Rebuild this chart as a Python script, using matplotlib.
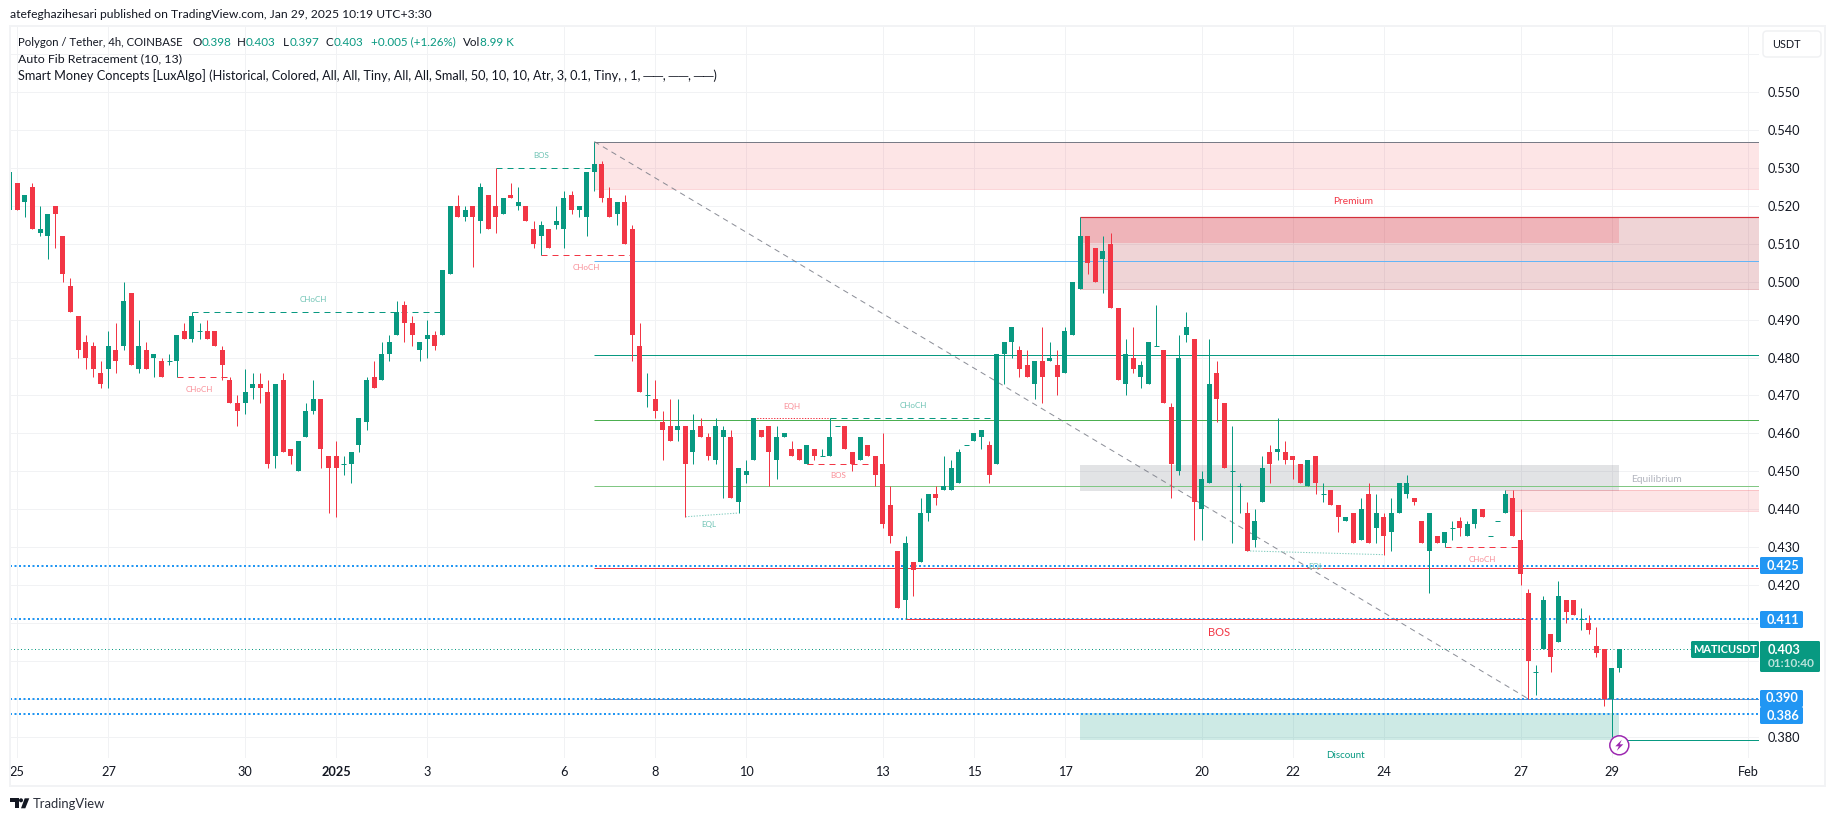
import matplotlib
matplotlib.use('Agg')
import matplotlib.pyplot as plt
from matplotlib.patches import Circle, FancyBboxPatch, Polygon, Rectangle

plt.rcParams['font.family'] = ['Lato', 'DejaVu Sans']

UP = '#089981'
DOWN = '#f23645'
BLUE = '#2196f3'
GREY = '#787b86'
GRID = '#f1f2f4'
TEXT = '#131722'

# 4h candles, first one is the bar before Dec 25 00:00
first_bar = -1
opens = [.519, .526, .521, .525, .513, .512, .520, .512, .499, .491,
         .484, .483, .476, .477, .482, .483, .497, .477, .482, .480,
         .479, .479, .479, .487, .485, .487, .487, .487, .482, .474,
         .468, .468, .472, .473, .471, .454, .474, .456, .450, .459,
         .466, .469, .454, .454, .452, .452, .457, .463, .475, .474,
         .481, .486, .494, .489, .482, .485, .486, .486, .502, .520,
         .517, .520, .516, .523, .520, .518, .523, .520, .520, .514,
         .512, .514, .515, .514, .523, .519, .517, .529, .531, .522,
         .518, .521, .514, .483, .470, .469, .463, .462, .461, .462,
         .455, .462, .459, .453, .459, .459, .442, .449, .453, .461,
         .462, .453, .459, .456, .456, .452, .456, .454, .454, .462,
         .462, .455, .453, .457, .454, .452, .441, .429, .416, .426,
         .426, .439, .444, .445, .445, .447, .457, .458, .459, .457,
         .452, .481, .484, .482, .478, .473, .479, .479, .478, .476,
         .486, .498, .512, .509, .506, .510, .493, .473, .480, .475,
         .473, .483, .482, .467, .450, .486, .485, .440, .447, .476,
         .468, .450, .446, .439, .432, .442, .455, .455, .455, .454,
         .452, .446, .454, .444, .445, .441, .437, .439, .432, .444,
         .435, .438, .434, .439, .444, .443, .437, .429, .433, .431,
         .435, .437, .433, .436, .440, .433, .437, .439, .443, .432,
         .418, .397, .403, .407, .405, .416, .416, .411, .410, .404,
         .403, .390, .398]
highs = [.529, .526, .523, .526, .520, .518, .520, .512, .501, .491,
         .486, .484, .479, .487, .489, .500, .497, .490, .484, .481,
         .480, .481, .486, .489, .492, .489, .490, .487, .483, .475,
         .470, .477, .476, .476, .474, .473, .476, .456, .458, .468,
         .474, .469, .454, .458, .454, .455, .464, .475, .479, .484,
         .486, .495, .495, .491, .484, .490, .487, .503, .520, .523,
         .520, .520, .526, .523, .530, .522, .526, .525, .520, .516,
         .516, .514, .520, .524, .524, .520, .529, .537, .532, .525,
         .521, .523, .515, .489, .476, .474, .466, .469, .469, .462,
         .465, .464, .460, .464, .462, .461, .451, .453, .464, .461,
         .462, .462, .460, .458, .456, .457, .456, .456, .464, .462,
         .462, .455, .459, .457, .454, .460, .446, .429, .433, .426,
         .443, .444, .446, .454, .453, .456, .457, .460, .461, .458,
         .481, .484, .488, .483, .482, .479, .488, .484, .482, .488,
         .500, .517, .512, .509, .512, .513, .493, .485, .488, .479,
         .484, .494, .482, .468, .486, .492, .485, .450, .485, .479,
         .468, .462, .447, .442, .440, .454, .457, .464, .458, .454,
         .452, .453, .454, .447, .445, .441, .438, .439, .443, .447,
         .444, .439, .443, .447, .449, .443, .437, .439, .433, .434,
         .437, .438, .437, .440, .440, .433, .437, .445, .445, .440,
         .419, .399, .417, .407, .421, .416, .416, .414, .412, .409,
         .403, .398, .403]
lows = [.514, .519, .517, .514, .512, .506, .509, .500, .492, .480,
        .477, .475, .472, .472, .476, .482, .478, .476, .477, .475,
        .475, .478, .475, .485, .484, .485, .485, .483, .474, .468,
        .462, .465, .469, .468, .451, .451, .455, .452, .450, .459,
        .465, .451, .439, .438, .449, .447, .455, .461, .472, .474,
        .479, .486, .484, .483, .479, .480, .482, .486, .502, .517,
        .516, .504, .513, .514, .513, .518, .522, .519, .516, .509,
        .507, .509, .514, .509, .518, .517, .512, .524, .521, .517,
        .515, .510, .479, .471, .467, .464, .453, .458, .458, .438,
        .452, .459, .453, .452, .443, .443, .439, .447, .453, .459,
        .446, .448, .459, .454, .453, .452, .453, .454, .454, .462,
        .456, .450, .453, .454, .446, .435, .431, .414, .411, .417,
        .426, .437, .441, .445, .445, .447, .457, .458, .456, .447,
        .452, .473, .480, .475, .475, .469, .468, .479, .470, .476,
        .486, .498, .502, .500, .497, .493, .474, .470, .476, .472,
        .473, .483, .468, .443, .449, .484, .432, .432, .447, .463,
        .451, .431, .439, .429, .430, .442, .447, .453, .452, .448,
        .447, .446, .444, .442, .441, .434, .437, .431, .432, .431,
        .431, .428, .429, .439, .443, .441, .431, .418, .431, .430,
        .432, .433, .433, .435, .438, .433, .437, .439, .433, .420,
        .390, .391, .403, .397, .405, .410, .412, .408, .407, .401,
        .388, .380, .397]
closes = [.529, .519, .523, .514, .514, .518, .518, .502, .492, .482,
          .480, .477, .473, .483, .479, .495, .478, .483, .477, .481,
          .475, .479, .486, .485, .491, .487, .485, .483, .478, .468,
          .466, .471, .473, .472, .452, .473, .455, .454, .458, .466,
          .469, .456, .451, .451, .452, .455, .464, .474, .472, .481,
          .484, .492, .489, .486, .484, .486, .483, .503, .520, .517,
          .519, .517, .525, .514, .517, .522, .522, .521, .516, .510,
          .515, .509, .516, .522, .519, .520, .529, .531, .522, .517,
          .521, .510, .486, .471, .470, .466, .461, .458, .462, .452,
          .461, .459, .454, .462, .461, .443, .451, .450, .464, .459,
          .455, .459, .460, .454, .453, .457, .454, .454, .459, .462,
          .456, .452, .459, .454, .449, .436, .433, .414, .431, .424,
          .439, .444, .443, .446, .451, .455, .457, .460, .461, .449,
          .481, .484, .488, .477, .475, .479, .475, .480, .475, .487,
          .500, .512, .505, .500, .508, .493, .474, .481, .477, .478,
          .484, .483, .468, .452, .480, .488, .442, .448, .473, .469,
          .451, .450, .446, .429, .437, .451, .452, .456, .453, .453,
          .447, .453, .447, .444, .441, .438, .438, .431, .440, .431,
          .439, .433, .439, .447, .447, .442, .431, .439, .431, .434,
          .435, .435, .436, .440, .438, .433, .437, .444, .433, .423,
          .400, .397, .416, .401, .417, .413, .412, .411, .408, .402,
          .390, .398, .403]

tick_bars = [0, 12, 30, 42, 54, 72, 84, 96, 114, 126, 138, 156, 168, 180, 198, 210, 228]
tick_labels = ['25', '27', '30', '2025', '3', '6', '8', '10', '13', '15', '17', '20', '22', '24', '27', '29', 'Feb']
price_ticks = [.56, .55, .54, .53, .52, .51, .50, .49, .48, .47, .46, .45, .44, .43, .42, .41, .40, .39, .38]
price_hidden = [.56, .41, .40, .39]

# auto fib levels: price, colour
fib_prices = [.537, .5056, .4808, .4635, .4462, .4245, .390]
fib_colors = [GREY, '#64b5f6', UP, '#4caf50', '#81c784', DOWN, '#7f8ab0']
blue_levels = [.425, .411, .390, .386]
last_price = .403

# structure lines: start bar, end bar, start price, end price, colour, style
struct_x0 = [21, 23, 63, 69, 97, 107, 104, 88, 162, 188, 117, 210]
struct_x1 = [28, 56, 76, 81, 107, 129, 113, 95, 180, 198, 199, 229.4]
struct_y0 = [.475, .492, .530, .507, .464, .464, .452, .438, .429, .430, .411, .379]
struct_y1 = [.475, .492, .530, .507, .464, .464, .452, .439, .428, .430, .411, .379]
struct_col = [DOWN, UP, UP, DOWN, DOWN, UP, DOWN, '#7fcbbd', '#7fcbbd', DOWN, DOWN, UP]
dash = (0, (6, 5))
dots = (0, (1.3, 1.5))
struct_ls = [dash, dash, dash, dash, dots, dash, dash, dots, dots, dash, '-', '-']

# small labels: text, pixel x, pixel y, colour
small_labels = [('CHoCH', 313, 300, '#6cc2b3'), ('CHoCH', 199, 389, '#f98d96'), ('BOS', 541, 155, '#6cc2b3'),
                ('CHoCH', 586, 267, '#f98d96'), ('EQH', 792, 406, '#f98d96'), ('CHoCH', 913, 406, '#6cc2b3'),
                ('EQL', 709, 525, '#6cc2b3'), ('BOS', 838, 476, '#f98d96'), ('CHoCH', 1482, 559, '#f98d96'),
                ('EQL', 1316, 567, '#6cc2b3')]
PX = 1 / 100 * 72  # one pixel in points

fig = plt.figure(figsize=(18.35, 8.21), dpi=100, facecolor='white')
ax = fig.add_axes([10 / 1835, (821 - 758) / 821, (1759 - 10) / 1835, (758 - 26) / 821])
bar_px = 7.592
x_end = (1759 - 17.3) / bar_px
ax.set_xlim((10 - 17.3) / bar_px, x_end)
ax.set_ylim(.55 - (758 - 92.3) / 3790, .55 - (26 - 92.3) / 3790)

for s in ax.spines.values():
    s.set_visible(False)
ax.set_axisbelow(True)
ax.grid(True, color=GRID, lw=PX)
ax.yaxis.tick_right()
ax.set_yticks(price_ticks)
ax.set_yticklabels(['' if p in price_hidden else f'{p:.3f}' for p in price_ticks], fontsize=9.2, color=TEXT)
ax.set_xticks(tick_bars)
ax.set_xticklabels(tick_labels, fontsize=9.2, color=TEXT)
ax.get_xticklabels()[3].set_fontweight('bold')
ax.tick_params(axis='both', length=0)
ax.tick_params(axis='x', pad=6)
ax.tick_params(axis='y', pad=6)

# zones
ax.fill_between([76, x_end], .5244, .537, color=DOWN, alpha=.13, lw=0, zorder=1)
ax.fill_between([140, x_end], .4982, .517, color='#b22833', alpha=.2, lw=0, zorder=1)
ax.fill_between([140, 211], .5102, .517, color=DOWN, alpha=.2, lw=0, zorder=1)
ax.fill_between([140, 211], .4448, .4517, color=GREY, alpha=.21, lw=0, zorder=1)
ax.fill_between([140, 211], .3792, .3862, color=UP, alpha=.2, lw=0, zorder=1)
ax.fill_between([196, x_end], .4394, .445, color=DOWN, alpha=.13, lw=0, zorder=1)
ax.hlines(.5244, 76, x_end, color=DOWN, alpha=.2, lw=PX, zorder=1.2)
ax.hlines(.4982, 140, x_end, color='#b22833', alpha=.3, lw=PX, zorder=1.2)
ax.hlines(.4394, 196, x_end, color=DOWN, alpha=.2, lw=PX, zorder=1.2)
ax.hlines(.445, 196, x_end, color=DOWN, alpha=.2, lw=PX, zorder=1.2)
ax.hlines(.517, 140, x_end, color='#d32f3a', lw=1.2 * PX, zorder=1.2)

# fib lines and the diagonal
for price, col in zip(fib_prices, fib_colors):
    ax.hlines(price, 76, x_end, color=col, lw=PX, zorder=2)
ax.plot([76, 199], [.537, .390], color=GREY, lw=PX, ls=(0, (5.5, 4.5)), alpha=.85, zorder=2)

for level in blue_levels:
    ax.hlines(level, ax.get_xlim()[0], x_end, color=BLUE, lw=2 * PX, ls=(0, (1, 1.25)), zorder=2.2)
ax.hlines(last_price, ax.get_xlim()[0], x_end, color=UP, lw=PX, ls=(0, (1, 2.5)), zorder=2.2)

for x0, x1, y0, y1, col, ls in zip(struct_x0, struct_x1, struct_y0, struct_y1, struct_col, struct_ls):
    ax.plot([x0, x1], [y0, y1], color=col, lw=PX, ls=ls, zorder=2.3)

# candles
bars = list(range(first_bar, first_bar + len(opens)))
cols = [UP if c >= o else DOWN for o, c in zip(opens, closes)]
ax.vlines(bars, lows, highs, color=cols, lw=PX, zorder=3)
body_bottom = [min(o, c) for o, c in zip(opens, closes)]
body_height = [abs(c - o) for o, c in zip(opens, closes)]
ax.bar(bars, body_height, bottom=body_bottom, width=5 / bar_px, color=cols, lw=0, zorder=3.1)
doji = [i for i in range(len(opens)) if opens[i] == closes[i]]
ax.hlines([opens[i] for i in doji], [bars[i] - 2.5 / bar_px for i in doji], [bars[i] + 2.5 / bar_px for i in doji],
          color=UP, lw=PX, zorder=3.1)

# overlay in pixel coordinates for everything outside the scales
ov = fig.add_axes([0, 0, 1, 1], facecolor='none')
ov.set_xlim(0, 1835)
ov.set_ylim(821, 0)
ov.axis('off')
ov.add_patch(Rectangle((10, 26), 1815, 760, fill=False, ec='#f2f3f5', lw=2 * PX))

fs = 8.9
ov.text(10, 15, 'atefeghazihesari published on TradingView.com, Jan 29, 2025 10:19 UTC+3:30', fontsize=8.7, color=TEXT, va='center')
ov.text(18, 42, 'Polygon / Tether, 4h, COINBASE', fontsize=8.2, color=TEXT, va='center')
header = [('O', 192, TEXT), ('0.398', 201.5, UP), ('H', 237, TEXT), ('0.403', 246, UP), ('L', 283, TEXT), ('0.397', 290, UP),
          ('C', 325, TEXT), ('0.403', 334, UP), ('+0.005 (+1.26%)', 371, UP), ('Vol', 463, TEXT), ('8.99 K', 480, UP)]
for txt, x, col in header:
    ov.text(x, 42, txt, fontsize=8.4, color=col, va='center')
ov.text(18, 59, 'Auto Fib Retracement (10, 13)', fontsize=fs, color=TEXT, va='center')
ov.text(18, 76, 'Smart Money Concepts [LuxAlgo] (Historical, Colored, All, All, Tiny, All, All, Small, 50, 10, 10, Atr, 3, 0.1, Tiny, , 1, ──, ──, ──)',
        fontsize=9.15, color=TEXT, va='center')

ov.add_patch(FancyBboxPatch((1763, 31), 58, 26, boxstyle='round,pad=0,rounding_size=4', fc='white', ec='#f0f1f3', lw=1.5 * PX))
ov.text(1786, 44.5, 'USDT', fontsize=7.8, color=TEXT, ha='center', va='center')

for txt, x, y, col in small_labels:
    ov.text(x, y, txt, fontsize=5.8, color=col, ha='center', va='center')
ov.text(1353, 201, 'Premium', fontsize=7.3, color=DOWN, ha='center', va='center')
ov.text(1345, 755, 'Discount', fontsize=7, color=UP, ha='center', va='center')
ov.text(1656, 479, 'Equilibrium', fontsize=7.4, color='#b2b5be', ha='center', va='center')
ov.text(1219, 633, 'BOS', fontsize=8, color=DOWN, ha='center', va='center')

# price labels on the scale
for y0, y1, txt in [(557, 574, '0.425'), (611, 628, '0.411'), (690, 707, '0.390'), (707, 724, '0.386')]:
    ov.add_patch(FancyBboxPatch((1760, y0), 43, y1 - y0, boxstyle='round,pad=0,rounding_size=1.5', fc=BLUE, lw=0))
    ov.text(1782.5, (y0 + y1) / 2, txt, fontsize=9.2, color='white', ha='center', va='center', fontweight='bold')
ov.add_patch(FancyBboxPatch((1760, 641), 60, 31, boxstyle='round,pad=0,rounding_size=1.5', fc=UP, lw=0))
ov.text(1768, 649.5, '0.403', fontsize=9.2, color='white', va='center', fontweight='bold')
ov.text(1768, 663.5, '01:10:40', fontsize=8.6, color='#b9e3db', va='center', fontweight='bold')
ov.add_patch(FancyBboxPatch((1691, 641), 68, 17, boxstyle='round,pad=0,rounding_size=1.5', fc=UP, lw=0))
ov.text(1725, 649.5, 'MATICUSDT', fontsize=7.9, color='white', ha='center', va='center', fontweight='bold')

# signal marker
cx, cy = 1619.3, 745.3
ov.add_patch(Circle((cx, cy), 9.5, fc='white', ec='#9c27b0', lw=1.5 * PX))
bolt = [(2.5, -5.5), (-4, 1), (-0.5, 1), (-2.5, 5.5), (4, -1), (0.5, -1)]
ov.add_patch(Polygon([(cx + a, cy + b) for a, b in bolt], fc='#9c27b0', lw=0))

# TradingView logo
logo_t = [(10, 798.3), (18.7, 798.3), (18.7, 808.3), (15, 808.3), (15, 802.3), (10, 802.3)]
logo_s = [(24.7, 798.3), (29.3, 798.3), (25.3, 808.3), (21, 808.3)]
ov.add_patch(Polygon(logo_t, fc=TEXT, lw=0))
ov.add_patch(Polygon(logo_s, fc=TEXT, lw=0))
ov.add_patch(Circle((21, 800.3), 2, fc=TEXT, lw=0))
ov.text(33, 803.5, 'TradingView', fontsize=9.4, color='#2a2e39', va='center')

fig.savefig('out.png', dpi=100)
